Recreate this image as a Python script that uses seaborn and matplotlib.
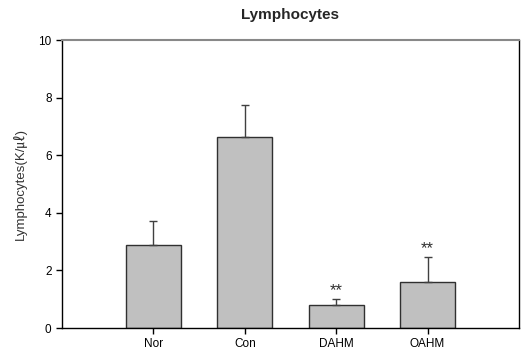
import matplotlib
matplotlib.use("Agg")
import matplotlib.pyplot as plt
import seaborn as sns
import pandas as pd
import numpy as np

categories = ["Nor", "Con", "DAHM", "OAHM"]
means = [2.87, 6.62, 0.79, 1.59]
errors = [0.85, 1.13, 0.21, 0.86]
stars = ["", "", "**", "**"]

sns.set_style("white")
plt.rcParams['font.family'] = ['Liberation Sans', 'Noto Sans CJK KR', 'DejaVu Sans']

fig = plt.figure(figsize=(5.21, 3.54), dpi=100)
ax = fig.add_axes([0.119, 0.0734, 0.877, 0.8136])

df = pd.DataFrame({"group": categories, "value": means})
sns.barplot(data=df, x="group", y="value", order=categories, color="#c0c0c0",
            edgecolor="#303030", linewidth=1.0, width=0.6, saturation=1, ax=ax,
            errorbar=None)
pos = np.arange(len(categories))
ax.errorbar(pos, means, yerr=[np.zeros(len(means)), errors], fmt="none",
            ecolor="#404040", elinewidth=1.0, capsize=3, capthick=1.0)
for p, m, e, s in zip(pos, means, errors, stars):
    if s:
        ax.text(p, m + e + 0.05, s, ha="center", va="bottom", fontsize=12, color="#303030")

ax.set_xlim(-1, 4)
ax.set_ylim(0, 10)
ax.set_yticks([0, 2, 4, 6, 8, 10])
ax.set_xlabel("")
ax.set_ylabel("Lymphocytes(K/\u3395)", fontsize=9.5, color="#333333", labelpad=8)
ax.set_title("Lymphocytes", fontsize=11, fontweight="bold", pad=15)
ax.tick_params(axis="both", direction="out", length=4, width=1, labelsize=8.5,
               colors="black", left=True, bottom=True)
for s in ["left", "bottom", "right"]:
    ax.spines[s].set_color("black")
    ax.spines[s].set_linewidth(1)
ax.spines["top"].set_color("#888888")
ax.spines["top"].set_linewidth(1.5)

fig.savefig("out.png", dpi=100)
